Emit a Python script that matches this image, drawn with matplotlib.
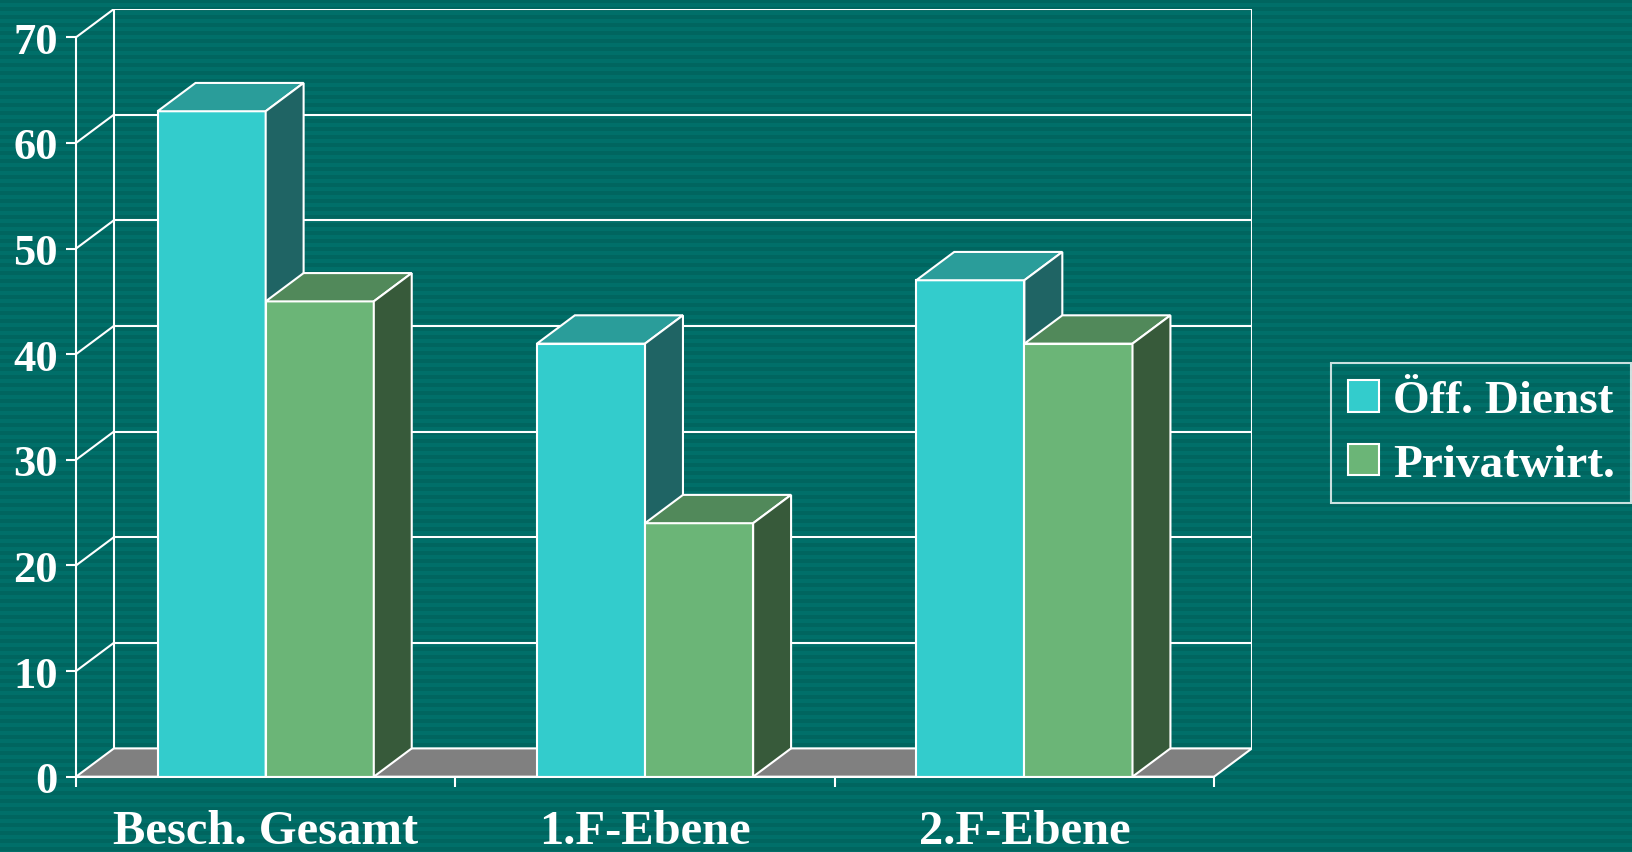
import numpy as np
import matplotlib as mpl
import matplotlib.pyplot as plt
from matplotlib.colors import ListedColormap
from matplotlib.patches import Polygon, Patch

categories = ["Besch. Gesamt", "1.F-Ebene", "2.F-Ebene"]
series = ["Öff. Dienst", "Privatwirt."]
oeff_dienst = [63, 41, 47]
privatwirt = [45, 24, 41]
y_ticks = [0, 10, 20, 30, 40, 50, 60, 70]

# front / top / side shades per series
FACE = {"front": ["#33CCCC", "#6BB577"],
        "top": ["#2A9D9A", "#51895A"],
        "side": ["#1F6464", "#375A3A"]}

DX, DY = 0.1, 2.68      # depth offset (category units, value units)
BAR_W = 0.285
LW = 1.5
WHITE = "white"

mpl.rcParams["font.family"] = ["Liberation Serif", "DejaVu Serif"]
mpl.rcParams["font.weight"] = "bold"

fig = plt.figure(figsize=(16.33, 8.53), dpi=100)

# striped background
bg = fig.add_axes([0, 0, 1, 1], zorder=-5)
stripes = (np.arange(853)[:, None] // 4) % 2
bg.imshow(stripes, aspect="auto", interpolation="nearest",
          cmap=ListedColormap(["#00655F", "#006F69"]))
bg.axis("off")

ymax = y_ticks[-1]
ax = fig.add_axes([76 / 1633, 75.3 / 853, (1252 - 76) / 1633, (843 - 75.3) / 853])
ax.set_facecolor("none")
ax.set_xlim(0, len(categories) + DX)
ax.set_ylim(0, ymax + DY)
n = len(categories)

# floor
ax.add_patch(Polygon([(0, 0), (n, 0), (n + DX, DY), (DX, DY)], closed=True,
                     facecolor="#808080", edgecolor=WHITE, lw=LW, zorder=1))
# back wall grid + side wall diagonals
for v in y_ticks[1:]:
    ax.plot([DX, n + DX], [v + DY, v + DY], color=WHITE, lw=LW, zorder=1)
    ax.plot([0, DX], [v, v + DY], color=WHITE, lw=LW, zorder=1)
ax.plot([DX, DX], [DY, ymax + DY], color=WHITE, lw=LW, zorder=1)
ax.plot([n + DX, n + DX], [DY, ymax + DY], color=WHITE, lw=LW, zorder=1)

# 3d bars
z = 3
for i in range(n):
    for s, vals in enumerate([oeff_dienst, privatwirt]):
        x0 = i + 0.5 - BAR_W + s * BAR_W
        v = vals[i]
        ax.bar(x0, v, BAR_W, align="edge", color=FACE["front"][s],
               edgecolor=WHITE, lw=LW, zorder=z)
        x1 = x0 + BAR_W
        ax.add_patch(Polygon([(x0, v), (x1, v), (x1 + DX, v + DY), (x0 + DX, v + DY)],
                             closed=True, facecolor=FACE["top"][s],
                             edgecolor=WHITE, lw=LW, zorder=z))
        ax.add_patch(Polygon([(x1, 0), (x1 + DX, DY), (x1 + DX, v + DY), (x1, v)],
                             closed=True, facecolor=FACE["side"][s],
                             edgecolor=WHITE, lw=LW, zorder=z))
        z += 1

# axes
for sp in ["top", "right"]:
    ax.spines[sp].set_visible(False)
ax.spines["left"].set_bounds(0, ymax)
ax.spines["bottom"].set_bounds(0, n)
for sp in ["left", "bottom"]:
    ax.spines[sp].set_color(WHITE)
    ax.spines[sp].set_linewidth(LW)
    ax.spines[sp].set_zorder(50)

ax.set_yticks(y_ticks)
ax.set_yticklabels([str(t) for t in y_ticks])
ax.set_xticks(range(n + 1))
ax.set_xticklabels([])
ax.set_xticks([i + 0.5 for i in range(n)], minor=True)
ax.set_xticklabels(categories, minor=True)
ax.tick_params(axis="y", colors=WHITE, length=7.2, width=LW, pad=6,
               labelsize=32)
ax.tick_params(axis="x", which="major", colors=WHITE, length=7.2, width=LW)
ax.tick_params(axis="x", which="minor", length=0, pad=23, labelsize=35,
               labelcolor=WHITE)

handles = [Patch(facecolor=FACE["front"][s], edgecolor=WHITE, lw=LW) for s in range(2)]
leg = fig.legend(handles, series, loc="center left",
                 bbox_to_anchor=(1331 / 1633, 419 / 853), borderaxespad=0,
                 fontsize=34, handlelength=0.66, handleheight=0.66,
                 handletextpad=0.3, labelspacing=0.45, borderpad=0.35,
                 fancybox=False, labelcolor=WHITE)
leg.get_frame().set_facecolor("none")
leg.get_frame().set_edgecolor(WHITE)
leg.get_frame().set_linewidth(LW)

fig.savefig("out.png", dpi=100)
